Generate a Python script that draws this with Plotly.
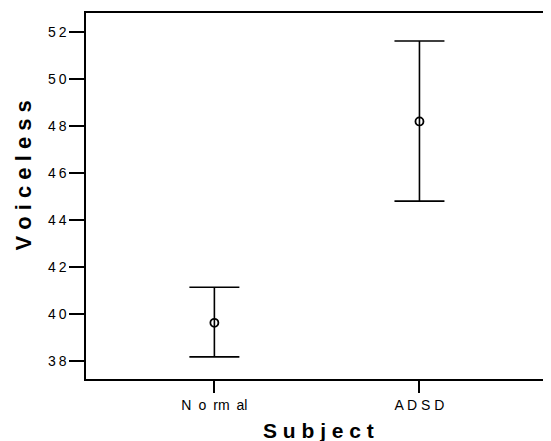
import plotly.graph_objects as go

categories = ["Normal", "ADSD"]
means = [39.63, 48.19]
upper = [41.14, 51.61]
lower = [38.18, 44.80]
y_ticks = [38, 40, 42, 44, 46, 48, 50, 52]
x_ticklabels = ["N\u2002o\u2002rm\u2002al", "A D S D"]

err_plus = [u - m for u, m in zip(upper, means)]
err_minus = [m - l for m, l in zip(means, lower)]

fig = go.Figure()
fig.add_trace(go.Scatter(
    x=[0, 1], y=means, mode="markers",
    marker=dict(symbol="circle-open", size=8, color="black", line=dict(width=1.8, color="black")),
    error_y=dict(type="data", symmetric=False, array=err_plus, arrayminus=err_minus,
                 color="black", thickness=1.6, width=25),
    showlegend=False,
))

font_family = "Arial, Liberation Sans, sans-serif"
fig.update_layout(
    width=543, height=433,
    margin=dict(l=78, r=3, t=3, b=62),
    paper_bgcolor="white", plot_bgcolor="white",
    font=dict(family=font_family, color="black"),
    xaxis=dict(
        range=[-0.626, 1.617], tickmode="array", tickvals=[0, 1],
        ticktext=x_ticklabels,
        ticks="outside", ticklen=12, tickwidth=1.5, tickcolor="black",
        showline=True, linecolor="black", linewidth=1.5, mirror=True,
        showgrid=False, zeroline=False, tickfont=dict(size=14, family=font_family),
    ),
    yaxis=dict(
        range=[37.24, 52.80], tickmode="array", tickvals=y_ticks,
        ticktext=["\u2009".join(str(v)) for v in y_ticks],
        ticks="outside", ticklen=15, tickwidth=1.5, tickcolor="black",
        showline=True, linecolor="black", linewidth=1.5, mirror=True,
        showgrid=False, zeroline=False, tickfont=dict(size=14, family=font_family),
    ),
    annotations=[
        dict(text="<b>V o i c e l e s s</b>", xref="paper", yref="paper",
             x=-0.136, y=0.557, xanchor="center", yanchor="middle", textangle=-90,
             showarrow=False, font=dict(size=22, family=font_family)),
        dict(text="<b>S u b j e c t</b>", xref="paper", yref="paper",
             x=0.506, y=-0.141, xanchor="center", yanchor="middle",
             showarrow=False, font=dict(size=21, family=font_family)),
    ],
)

fig.write_html("out.html")
